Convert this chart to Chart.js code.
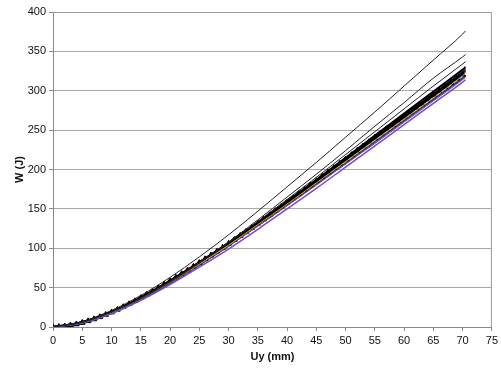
<!DOCTYPE html>
<html>
<head>
<meta charset="utf-8">
<script src="https://cdn.jsdelivr.net/npm/chart.js@4/dist/chart.umd.min.js"></script>
<style>
  html, body { margin: 0; padding: 0; background: #fff; }
  #wrap { width: 501px; height: 371px; }
</style>
</head>
<body>
<div id="wrap"><canvas id="chart1" width="501" height="371"></canvas></div>
<script>
// Uy (mm) sample positions for the thin curves
const uyCoarse = [0, 5, 10, 15, 20, 25, 30, 35, 40, 45, 50, 55, 60, 65, 70, 70.5];

// W (J) for each test curve
const wTop    = [0, 7, 21, 40, 63, 89, 117, 147, 178, 209, 241, 273, 306, 339, 372, 376];
const wSecond = [0, 6, 19, 37, 58, 82, 108, 136, 165, 194, 224, 255, 285, 316, 343, 346];
const wThird  = [0, 6, 19, 36, 57, 81, 107, 134, 162, 190, 219, 248, 277, 306, 334, 337];
const wBlack  = [0, 6, 19, 37, 58, 82, 107, 133, 160, 187, 215, 243, 271, 299, 327, 330];
const wNavy   = [0, 6, 19, 37, 58, 81, 106, 132, 159, 186, 213, 241, 268, 296, 324, 327];
const wBrown  = [0, 6, 18, 36, 57, 81, 105, 131, 158, 185, 212, 239, 266, 294, 322, 325];
const wYellow = [0, 6, 18, 36, 57, 80, 104, 130, 156, 183, 210, 237, 264, 291, 319, 322];
const wBlue   = [0, 5, 18, 35, 56, 79, 103, 129, 155, 182, 208, 235, 262, 289, 316, 319];
const wPink   = [0, 5, 17, 35, 56, 79, 103, 128, 154, 180, 207, 233, 260, 287, 314, 317];
const wPurple = [0, 5, 17, 34, 54, 76, 99, 124, 150, 176, 203, 230, 257, 284, 311, 314];

// the marked (triangle) curve, one reading per mm
const uyFine = [0,1,2,3,4,5,6,7,8,9,10,11,12,13,14,15,16,17,18,19,20,21,22,23,24,25,26,27,28,29,30,
  31,32,33,34,35,36,37,38,39,40,41,42,43,44,45,46,47,48,49,50,51,52,53,54,55,56,57,58,59,60,
  61,62,63,64,65,66,67,68,69,70];
const wMarked = [0,0.3,1.0,2.1,3.6,5.5,7.6,10.0,12.7,15.6,18.7,
  22.0,25.5,29.2,33.0,37.0,41.1,45.3,49.6,54.0,58.4,
  62.9,67.5,72.1,76.8,81.5,86.3,91.1,96.0,100.9,105.9,
  110.9,116.0,121.1,126.3,131.5,136.8,142.1,147.4,152.8,158.2,
  163.6,169.0,174.5,180.0,185.5,191.0,196.5,202.0,207.5,213.0,
  218.5,224.0,229.5,235.0,240.5,246.0,251.4,256.8,262.2,267.6,
  273.0,278.4,283.8,289.2,294.5,299.8,305.1,310.4,315.6,320.8];

const xTicks = [0, 5, 10, 15, 20, 25, 30, 35, 40, 45, 50, 55, 60, 65, 70, 75];
const yTicks = [0, 50, 100, 150, 200, 250, 300, 350, 400];

function pts(xs, ys) {
    return xs.map((x, i) => ({ x: x, y: ys[i] }));
}

function line(ys, color, width) {
    return {
        data: pts(uyCoarse, ys),
        showLine: true,
        borderColor: color,
        borderWidth: width || 1,
        pointRadius: 0,
        cubicInterpolationMode: 'monotone'
    };
}

const boxBorder = {
    id: 'boxBorder',
    afterDraw(chart) {
        const a = chart.chartArea;
        const c = chart.ctx;
        c.save();
        c.strokeStyle = '#9a9a9a';
        c.lineWidth = 1;
        c.beginPath();
        c.moveTo(a.left, a.top + 0.5);
        c.lineTo(a.right - 0.5, a.top + 0.5);
        c.lineTo(a.right - 0.5, a.bottom);
        c.stroke();
        c.restore();
    }
};

const ctx1 = document.getElementById('chart1').getContext('2d');
new Chart(ctx1, {
    type: 'scatter',
    data: {
        datasets: [
            line(wTop, '#222222'),
            line(wSecond, '#222222'),
            line(wThird, '#222222'),
            line(wPurple, '#6a4fd0', 1.5),
            line(wYellow, '#c8b020'),
            line(wPink, '#9a3a8a'),
            {
                data: pts(uyFine, wMarked),
                showLine: true,
                borderColor: '#000000',
                borderWidth: 3,
                pointStyle: 'triangle',
                pointRadius: 3.2,
                pointBackgroundColor: '#000000',
                pointBorderColor: '#000000',
                pointBorderWidth: 1
            },
            line(wBlack, '#000000', 2),
            line(wNavy, '#1a1a50', 2),
            line(wBrown, '#5a2a18', 2),
            line(wBlue, '#2a3a9a', 2)
        ]
    },
    options: {
        responsive: false,
        animation: false,
        layout: { padding: { top: 12, right: 6, bottom: 0, left: 0 } },
        plugins: {
            legend: { display: false },
            tooltip: { enabled: false }
        },
        scales: {
            x: {
                type: 'linear',
                min: 0,
                max: 75,
                afterBuildTicks: (s) => { s.ticks = xTicks.map(v => ({ value: v })); },
                afterFit: (s) => { s.height = 44; },
                grid: {
                    color: 'transparent',
                    tickColor: '#8a8a8a',
                    tickLength: 4
                },
                border: { color: '#8a8a8a' },
                ticks: {
                    color: '#111',
                    padding: 3,
                    maxRotation: 0,
                    font: { family: 'Liberation Sans', size: 11 }
                },
                title: {
                    display: true,
                    text: 'Uy (mm)',
                    color: '#111',
                    padding: { top: 0, bottom: 7 },
                    font: { family: 'Liberation Sans', size: 11, weight: 'bold' }
                }
            },
            y: {
                type: 'linear',
                min: 0,
                max: 400,
                afterBuildTicks: (s) => { s.ticks = yTicks.map(v => ({ value: v })); },
                afterFit: (s) => { s.width = 53; },
                grid: {
                    color: '#a8a8a8',
                    tickColor: '#8a8a8a',
                    tickLength: 4
                },
                border: { color: '#8a8a8a' },
                ticks: {
                    color: '#111',
                    padding: 3,
                    font: { family: 'Liberation Sans', size: 11 }
                },
                title: {
                    display: true,
                    text: 'W (J)',
                    color: '#111',
                    padding: { top: 13, bottom: 0 },
                    font: { family: 'Liberation Sans', size: 11, weight: 'bold' }
                }
            }
        }
    },
    plugins: [boxBorder]
});
</script>
</body>
</html>
